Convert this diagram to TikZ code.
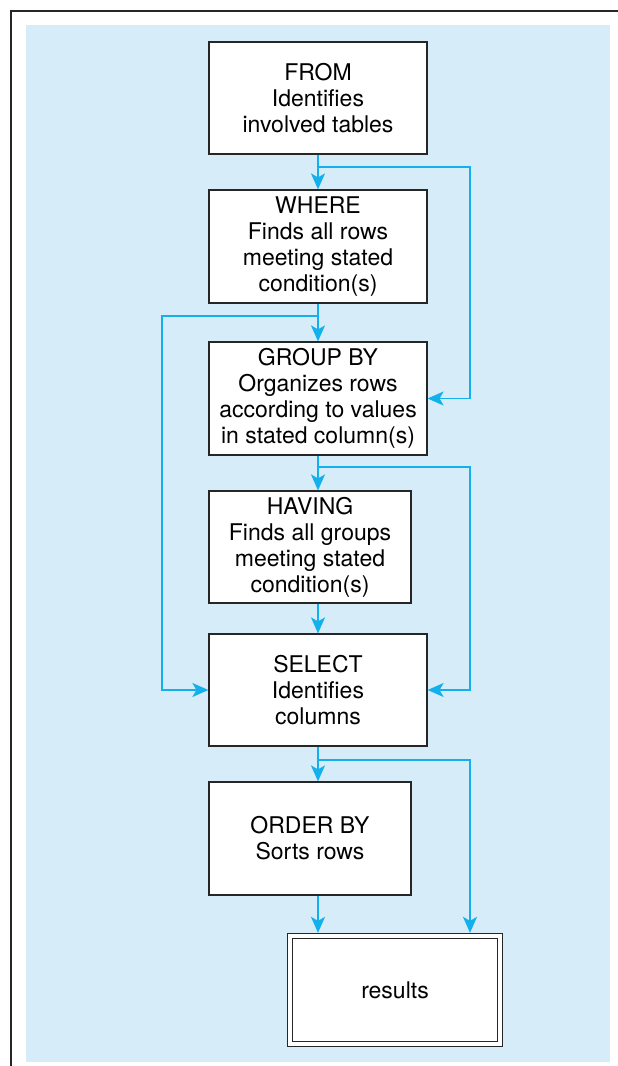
\documentclass[tikz,border=0pt]{standalone}
\usepackage{fontspec}
\setmainfont{TeX Gyre Heros}
\usetikzlibrary{arrows.meta}
\definecolor{flowblue}{RGB}{20,176,236}
\definecolor{bgblue}{RGB}{214,236,249}
\tikzset{
  stepbox/.style={draw=black!85, line width=1.2pt, fill=white, inner sep=0pt,
    align=center, font=\fontsize{23}{26}\selectfont},
  flow/.style={draw=flowblue, line width=1.7pt,
    -{Stealth[length=16pt,width=14pt,inset=4pt]}},
}
\begin{document}
\begin{tikzpicture}[x=1pt,y=-1pt]
\useasboundingbox (0,0) rectangle (618,1066);
% frame
\fill[bgblue] (26,25) rectangle (610,1062);
\draw[black!85, line width=2.6pt] (9.7,11) -- (618,11);
\draw[black!85, line width=2.6pt] (11,9.7) -- (11,1066);
% boxes
\node[stepbox, minimum width=218pt, minimum height=112pt] (from) at (318,98) {FROM\\Identifies\\involved tables};
\node[stepbox, minimum width=218pt, minimum height=113pt] (where) at (318,246.5) {WHERE\\Finds all rows\\meeting stated\\condition(s)};
\node[stepbox, minimum width=218pt, minimum height=113pt] (group) at (318,398.5) {GROUP BY\\Organizes rows\\according to values\\in stated column(s)};
\node[stepbox, minimum width=202pt, minimum height=112pt] (having) at (310,547) {HAVING\\Finds all groups\\meeting stated\\condition(s)};
\node[stepbox, minimum width=218pt, minimum height=112pt] (select) at (318,690) {SELECT\\Identifies\\columns};
\node[stepbox, minimum width=202pt, minimum height=113pt] (order) at (310,838.5) {ORDER BY\\Sorts rows};
\node[stepbox, double, double distance=3.6pt, line width=1.1pt, outer sep=2.9pt,
  minimum width=210.5pt, minimum height=108.5pt] (results) at (395,990) {results};
% guide coordinates
\coordinate (S) at (318,0);
\coordinate (R) at (470,0);
\coordinate (L) at (162,0);
\coordinate (j1) at (318,167);
\coordinate (j2) at (318,316);
\coordinate (j3) at (318,467);
\coordinate (j4) at (318,760);
% main spine
\draw[flow] (from.south) -- (where.north);
\draw[flow] (where.south) -- (group.north);
\draw[flow] (group.south) -- (having.north -| S);
\draw[flow] (having.south -| S) -- (select.north);
\draw[flow] (select.south) -- (order.north -| S);
\draw[flow] (order.south -| S) -- (results.north -| S);
% bypasses
\draw[flow] (j1) -- (j1 -| R) -- (R |- group.east) -- (group.east);
\draw[flow] (j2) -- (j2 -| L) -- (L |- select.west) -- (select.west);
\draw[flow] (j3) -- (j3 -| R) -- (R |- select.east) -- (select.east);
\draw[flow] (j4) -- (j4 -| R) -- (R |- results.north);
\end{tikzpicture}
\end{document}
